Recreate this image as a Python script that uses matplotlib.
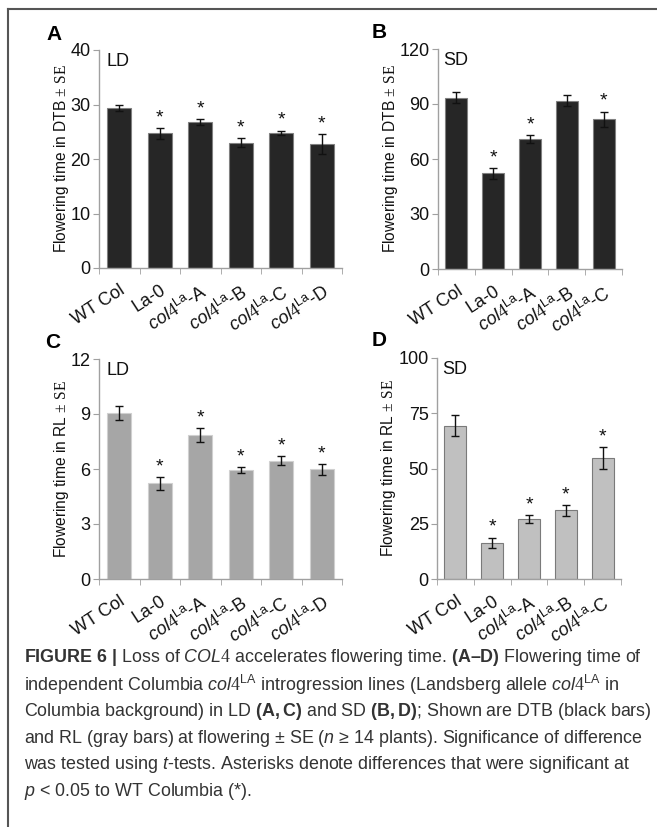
import matplotlib
matplotlib.use("Agg")
import matplotlib.pyplot as plt
from matplotlib.lines import Line2D
from matplotlib.transforms import ScaledTranslation

plt.rcParams["font.family"] = ["Liberation Sans", "DejaVu Sans"]
plt.rcParams["mathtext.fontset"] = "custom"
plt.rcParams["mathtext.rm"] = "Liberation Serif"
plt.rcParams["mathtext.sf"] = "Liberation Sans"
plt.rcParams["mathtext.it"] = "Liberation Sans:italic"
plt.rcParams["mathtext.bf"] = "Liberation Sans:bold"

# data
lines6 = ["WT Col", "La-0", "A", "B", "C", "D"]
lines5 = lines6[:5]
dtb_ld = [29.3, 24.7, 26.8, 23.0, 24.8, 22.8]
dtb_ld_se = [0.55, 1.0, 0.5, 0.8, 0.4, 1.8]
dtb_ld_sig = [False, True, True, True, True, True]
dtb_sd = [93.5, 52.2, 70.7, 91.8, 81.8]
dtb_sd_se = [3.1, 2.9, 2.2, 3.0, 4.1]
dtb_sd_sig = [False, True, True, False, True]
rl_ld = [9.05, 5.22, 7.85, 5.93, 6.45, 5.98]
rl_ld_se = [0.36, 0.35, 0.4, 0.16, 0.25, 0.29]
rl_ld_sig = [False, True, True, True, True, True]
rl_sd = [69.4, 16.4, 27.1, 31.1, 54.8]
rl_sd_se = [4.6, 2.3, 1.7, 2.4, 5.0]
rl_sd_sig = [False, True, True, True, True]


def ticklab(n):
    if n in ("WT Col", "La-0"):
        return n
    return r"$\mathit{col4}^{\mathsf{La}}$-" + n


W, H = 657, 827
fig = plt.figure(figsize=(W / 100, H / 100), dpi=100)
shift = ScaledTranslation(0.15, 0, fig.dpi_scale_trans)


def box(l, t, r, b):
    return [l / W, 1 - b / H, (r - l) / W, (b - t) / H]


def panel(rect, names, vals, se, sig, ymax, step, fc, ec, cond, ylab, letter, lx, ly):
    ax = fig.add_axes(rect)
    n = len(names)
    x = [i + 0.5 for i in range(n)]
    ax.bar(x, vals, 0.6, color=fc, edgecolor=ec, linewidth=0.8, zorder=2)
    ax.errorbar(x, vals, yerr=se, fmt="none", ecolor="#111111", elinewidth=1,
                capsize=2.8, capthick=1, zorder=3)
    pad = ymax * 0.008
    for xi, v, s, g in zip(x, vals, se, sig):
        if g:
            ax.text(xi, v + s + pad, "*", ha="center", va="bottom", fontsize=14, color="#111111")
    ax.set_xlim(0, n)
    ax.set_ylim(0, ymax)
    ax.set_yticks([step * k for k in range(int(round(ymax / step)) + 1)])
    ax.set_xticks(x)
    ax.set_xticklabels([ticklab(s) for s in names], rotation=33, ha="right",
                       rotation_mode="anchor", fontsize=13, color="#111111")
    for lab in ax.get_xticklabels():
        lab.set_transform(lab.get_transform() + shift)
    ax.set_xticks(range(n + 1), minor=True)
    ax.tick_params(axis="x", which="major", length=0, pad=10)
    ax.tick_params(axis="x", which="minor", length=4, color="#a0a0a0", direction="out")
    ax.tick_params(axis="y", length=4, color="#a0a0a0", labelsize=13, labelcolor="#111111", pad=2)
    for s in ("top", "right"):
        ax.spines[s].set_visible(False)
    for s in ("left", "bottom"):
        ax.spines[s].set_color("#a0a0a0")
        ax.spines[s].set_linewidth(1)
    ax.set_ylabel(ylab, fontsize=11.2, color="#111111", labelpad=0)
    ax.text(0.03, 0.985, cond, transform=ax.transAxes, ha="left", va="top", fontsize=13, color="#111111")
    fig.text(lx / W, 1 - ly / H, letter, fontsize=15, fontweight="bold", ha="left", va="center")
    return ax


panel(box(99, 50, 342, 268), lines6, dtb_ld, dtb_ld_se, dtb_ld_sig, 40, 10,
      "#262626", "#808080", "LD", r"Flowering time in DTB $\pm\ \mathrm{SE}$", "A", 46, 34)
panel(box(438, 49, 622, 269), lines5, dtb_sd, dtb_sd_se, dtb_sd_sig, 120, 30,
      "#262626", "#808080", "SD", r"Flowering time in DTB $\pm\ \mathrm{SE}$", "B", 372, 32)
panel(box(99, 359, 342, 579), lines6, rl_ld, rl_ld_se, rl_ld_sig, 12, 3,
      "#a6a6a6", "#d0d0d0", "LD", r"Flowering time in RL $\pm\ \mathrm{SE}$", "C", 45, 342)
panel(box(437, 358, 621, 579), lines5, rl_sd, rl_sd_se, rl_sd_sig, 100, 25,
      "#c0c0c0", "#7a7a7a", "SD", r"Flowering time in RL $\pm\ \mathrm{SE}$", "D", 372, 341)

caption = [
    r"$\mathbf{FIGURE\ 6\ |}$ Loss of $\mathit{COL4}$ accelerates flowering time. $\mathbf{(A–D)}$ Flowering time of",
    r"independent Columbia $\mathit{col4}^{\mathsf{LA}}$ introgression lines (Landsberg allele $\mathit{col4}^{\mathsf{LA}}$ in",
    r"Columbia background) in LD $\mathbf{(A,C)}$ and SD $\mathbf{(B,D)}$; Shown are DTB (black bars)",
    r"and RL (gray bars) at flowering ± SE ($\mathit{n}$ ≥ 14 plants). Significance of difference",
    r"was tested using $\mathit{t}$-tests. Asterisks denote differences that were significant at",
    r"$\mathit{p}$ < 0.05 to WT Columbia (*).",
]
for i, line in enumerate(caption):
    fig.text(24 / W, 1 - (658 + i * 26.7) / H, line, fontsize=12.9, color="#333333",
             ha="left", va="center")

fig.add_artist(Line2D([8 / W, 1], [1 - 8.5 / H, 1 - 8.5 / H], transform=fig.transFigure,
                      color="#555555", linewidth=1.5))
fig.add_artist(Line2D([8 / W, 8 / W], [1 - 8.5 / H, 0], transform=fig.transFigure,
                      color="#555555", linewidth=1.5))

fig.savefig("out.png", dpi=100)
